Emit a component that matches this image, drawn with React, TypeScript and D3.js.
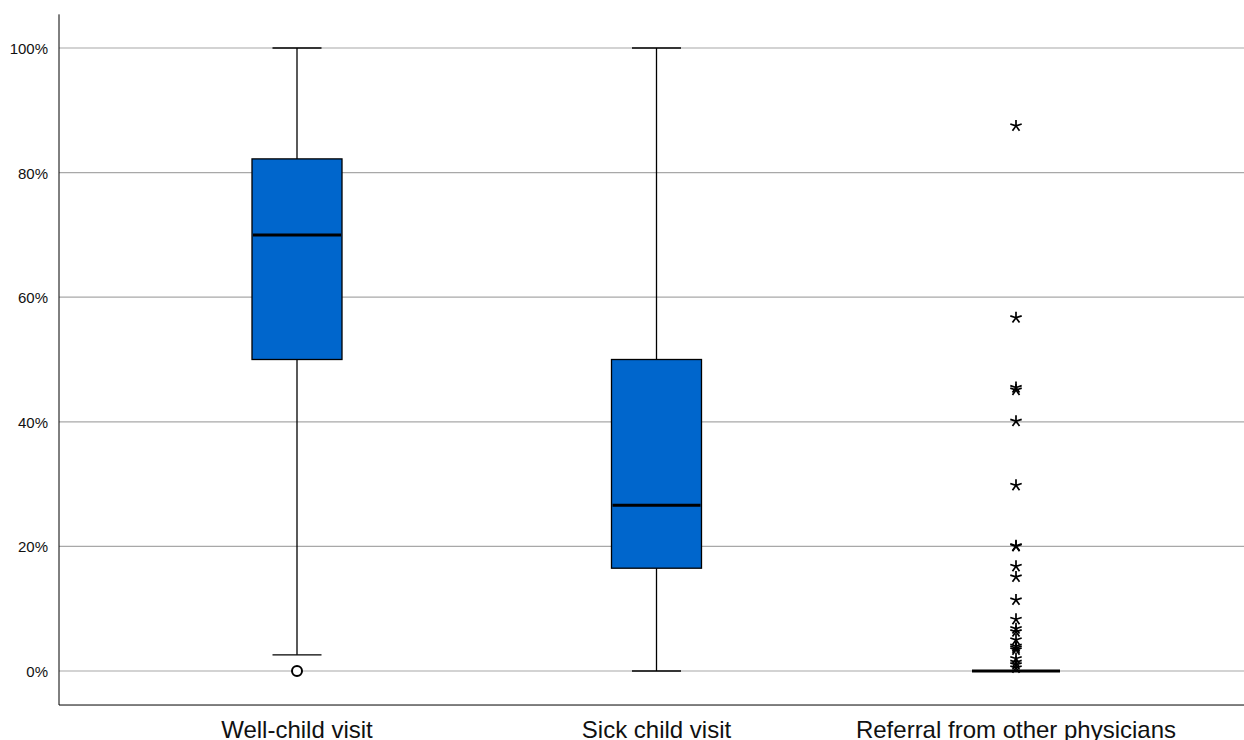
import React, { useRef, useEffect } from 'react';
import * as d3 from 'd3';

// Category labels
const categories = ['Well-child visit', 'Sick child visit', 'Referral from other physicians'];

// Box summary per category (fractions of 1)
const lowerWhisker = [0.026, 0, 0];
const q1 = [0.5, 0.165, 0];
const median = [0.7, 0.266, 0];
const q3 = [0.822, 0.5, 0];
const upperWhisker = [1, 1, 0];

// Outliers: circles (mild) for well-child, stars (extreme) for referral
const wellChildOutliers = [0];
const referralExtremes = [
  0.875, 0.567, 0.455, 0.451, 0.401, 0.298, 0.201, 0.2, 0.168, 0.151, 0.114,
  0.083, 0.068, 0.063, 0.05, 0.04, 0.037, 0.034, 0.02, 0.014, 0.01, 0.005,
];

const yTicks = [0, 0.2, 0.4, 0.6, 0.8, 1];

const BOX_COLOR = '#0066cc';
const GRID_COLOR = '#a8a8a8';

export default function App() {
  const svgRef = useRef<SVGSVGElement>(null);
  const width = 1244;
  const height = 740;

  useEffect(() => {
    const svg = d3.select(svgRef.current);
    svg.selectAll('*').remove();

    const margin = { left: 59, right: 0 };
    const y = d3.scaleLinear().domain([0, 1]).range([671, 48]);
    const x = d3.scalePoint<string>()
      .domain(categories)
      .range([297, 1016]);

    const yTop = y(1.054);
    const yBottom = y(-0.0546);

    // Gridlines
    svg.append('g')
      .selectAll('line')
      .data(yTicks)
      .enter()
      .append('line')
      .attr('x1', margin.left)
      .attr('x2', width - margin.right)
      .attr('y1', d => y(d))
      .attr('y2', d => y(d))
      .attr('stroke', GRID_COLOR)
      .attr('stroke-width', 1.2);

    // Tick labels
    svg.append('g')
      .selectAll('text')
      .data(yTicks)
      .enter()
      .append('text')
      .attr('x', 48)
      .attr('y', d => y(d))
      .attr('dy', '0.4em')
      .attr('text-anchor', 'end')
      .style('font-family', 'Liberation Sans, Arial, sans-serif')
      .style('font-size', '15px')
      .style('fill', '#111')
      .text(d => d3.format('.0%')(d));

    // Axis lines
    svg.append('line')
      .attr('x1', margin.left).attr('x2', margin.left)
      .attr('y1', yTop).attr('y2', yBottom)
      .attr('stroke', '#000').attr('stroke-width', 1);
    svg.append('line')
      .attr('x1', margin.left).attr('x2', width - margin.right)
      .attr('y1', yBottom).attr('y2', yBottom)
      .attr('stroke', '#000').attr('stroke-width', 1);

    // Category labels
    svg.append('g')
      .selectAll('text')
      .data(categories)
      .enter()
      .append('text')
      .attr('x', d => x(d)!)
      .attr('y', yBottom + 33)
      .attr('text-anchor', 'middle')
      .style('font-family', 'Liberation Sans, Arial, sans-serif')
      .style('font-size', '24px')
      .style('fill', '#111')
      .text(d => d);

    const boxW = 90;
    const capW = 49;
    const rows = categories.map((c, i) => ({
      c, lo: lowerWhisker[i], q1: q1[i], med: median[i], q3: q3[i], hi: upperWhisker[i],
    }));

    const g = svg.append('g');
    rows.forEach(r => {
      const cx = x(r.c)!;
      // whiskers
      g.append('line')
        .attr('x1', cx).attr('x2', cx)
        .attr('y1', y(r.q3)).attr('y2', y(r.hi))
        .attr('stroke', '#000').attr('stroke-width', 1.3);
      g.append('line')
        .attr('x1', cx).attr('x2', cx)
        .attr('y1', y(r.q1)).attr('y2', y(r.lo))
        .attr('stroke', '#000').attr('stroke-width', 1.3);
      if (r.hi > r.q3) {
        g.append('line')
          .attr('x1', cx - capW / 2).attr('x2', cx + capW / 2)
          .attr('y1', y(r.hi)).attr('y2', y(r.hi))
          .attr('stroke', '#000').attr('stroke-width', 1.3);
      }
      if (r.lo < r.q1) {
        g.append('line')
          .attr('x1', cx - capW / 2).attr('x2', cx + capW / 2)
          .attr('y1', y(r.lo)).attr('y2', y(r.lo))
          .attr('stroke', '#000').attr('stroke-width', 1.3);
      }
      // box
      if (r.q3 > r.q1) {
        g.append('rect')
          .attr('x', cx - boxW / 2)
          .attr('y', y(r.q3))
          .attr('width', boxW)
          .attr('height', y(r.q1) - y(r.q3))
          .attr('fill', BOX_COLOR)
          .attr('stroke', '#000')
          .attr('stroke-width', 1.3);
      }
      // median
      g.append('line')
        .attr('x1', cx - boxW / 2 + 1).attr('x2', cx + boxW / 2 - 1)
        .attr('y1', y(r.med)).attr('y2', y(r.med))
        .attr('stroke', '#000').attr('stroke-width', 3);
    });

    // Circle outliers
    g.selectAll('.mild')
      .data(wellChildOutliers)
      .enter()
      .append('circle')
      .attr('class', 'mild')
      .attr('cx', x(categories[0])!)
      .attr('cy', d => y(d))
      .attr('r', 5)
      .attr('fill', '#fff')
      .attr('stroke', '#000')
      .attr('stroke-width', 2);

    // Star outliers (5 spokes)
    const starPath = (() => {
      const r = 6;
      const p = d3.path();
      for (let k = 0; k < 5; k++) {
        const a = -Math.PI / 2 + (k * 2 * Math.PI) / 5;
        p.moveTo(0, 0);
        p.lineTo(r * Math.cos(a), r * Math.sin(a));
      }
      return p.toString();
    })();

    g.selectAll('.extreme')
      .data(referralExtremes)
      .enter()
      .append('path')
      .attr('class', 'extreme')
      .attr('d', starPath)
      .attr('transform', d => `translate(${x(categories[2])},${y(d)})`)
      .attr('fill', 'none')
      .attr('stroke', '#000')
      .attr('stroke-width', 1.7);
  }, []);

  return (
    <div style={{ position: 'absolute', left: 0, top: 0 }}>
      <svg ref={svgRef} width={width} height={height} style={{ display: 'block', background: '#fff' }} />
    </div>
  );
}
